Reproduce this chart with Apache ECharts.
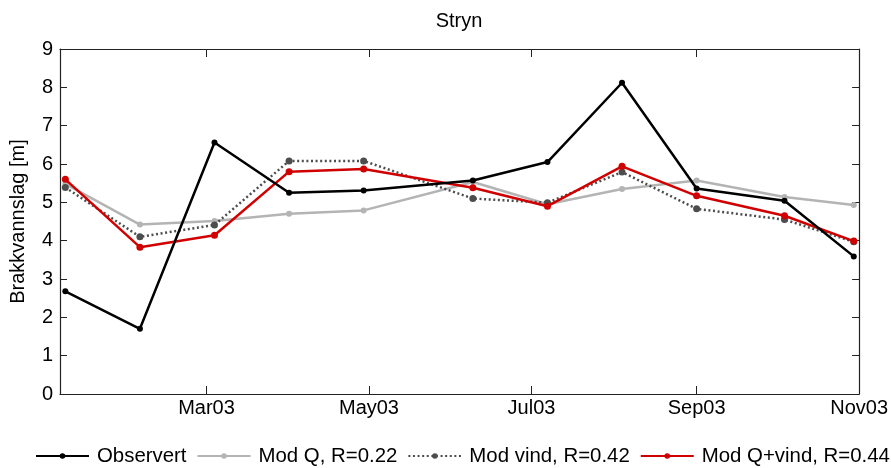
<!DOCTYPE html>
<html><head><meta charset="utf-8">
<script src="https://cdn.jsdelivr.net/npm/echarts@6/dist/echarts.min.js"></script>
<style>html,body{margin:0;padding:0;background:#fff}#c{width:891px;height:468px}</style>
</head><body><div id="c"></div>
<script>
const chartTitle = 'Stryn';
const yName = 'Brakkvannslag [m]';
const dates = ['2003-01-07','2003-02-04','2003-03-04','2003-04-01','2003-04-29','2003-06-09','2003-07-07','2003-08-04','2003-09-01','2003-10-04','2003-10-30'];
const observert = [2.68, 1.70, 6.56, 5.25, 5.31, 5.57, 6.05, 8.12, 5.36, 5.04, 3.59];
const modQ      = [5.48, 4.42, 4.51, 4.70, 4.79, 5.53, 4.95, 5.35, 5.57, 5.14, 4.93];
const modVind   = [5.39, 4.10, 4.41, 6.08, 6.08, 5.10, 4.99, 5.79, 4.83, 4.55, 3.97];
const modQVind  = [5.60, 3.83, 4.14, 5.80, 5.87, 5.38, 4.90, 5.94, 5.17, 4.65, 3.99];
const seriesNames = ['Observert', 'Mod Q, R=0.22', 'Mod vind, R=0.42', 'Mod Q+vind, R=0.44'];
const tickDates = ['2003-03-01','2003-05-01','2003-07-01','2003-09-01','2003-11-01'];
const tickLabels = ['Mar03','May03','Jul03','Sep03','Nov03'];
const xStart = '2003-01-05';
const xEnd = '2003-11-01';
const yMin = 0, yMax = 9, yStep = 1;

const ts = d => Date.parse(d + 'T00:00:00Z');
const tickTs = tickDates.map(ts);
const pair = arr => dates.map((d, i) => [ts(d), arr[i]]);
const FONT = 'Liberation Sans, Arial, Helvetica, sans-serif';
const AX = '#222';

const xCommon = {
  type: 'value', min: ts(xStart), max: ts(xEnd),
  splitLine: {show: false},
  axisLine: {show: true, onZero: false, lineStyle: {color: AX, width: 1.2}},
  axisTick: {show: true, inside: true, length: 8, customValues: tickTs, lineStyle: {color: AX, width: 1}},
};
const yCommon = {
  type: 'value', min: yMin, max: yMax, interval: yStep,
  splitLine: {show: false},
  axisLine: {show: true, onZero: false, lineStyle: {color: AX, width: 1.2}},
  axisTick: {show: true, inside: true, length: 7, lineStyle: {color: AX, width: 1}},
};

const styles = [
  {color: '#000000', width: 2.5, type: 'solid', size: 6, z: 5},
  {color: '#b4b4b4', width: 2.5, type: 'solid', size: 6, z: 2},
  {color: '#4d4d4d', width: 2.5, type: [2, 2.6], size: 7, z: 3},
  {color: '#d10000', width: 2.5, type: 'solid', size: 7, z: 4},
];
const values = [observert, modQ, modVind, modQVind];

const chart = echarts.init(document.getElementById('c'), null, {renderer: 'canvas'});
chart.setOption({
  animation: false,
  backgroundColor: '#fff',
  textStyle: {fontFamily: FONT},
  title: {text: chartTitle, left: 459, textAlign: 'center', top: 11, padding: 0,
    textStyle: {fontFamily: FONT, fontSize: 20, fontWeight: 'normal', color: '#000'}},
  grid: {left: 60, right: 30, top: 49, bottom: 74, containLabel: false},
  legend: {
    bottom: 2, left: 35, padding: 0, itemWidth: 53, itemHeight: 7, itemGap: 10,
    textStyle: {fontFamily: FONT, fontSize: 20.4, color: '#000', padding: [0, 0, 0, 3]},
    data: seriesNames,
  },
  xAxis: [
    Object.assign({}, xCommon, {position: 'bottom',
      axisLabel: {show: true, customValues: tickTs, margin: 4, color: '#000', fontSize: 20, fontFamily: FONT,
        showMinLabel: true, showMaxLabel: true, hideOverlap: false,
        formatter: v => { const i = tickTs.indexOf(v); return i >= 0 ? tickLabels[i] : ''; }}}),
    Object.assign({}, xCommon, {position: 'top', axisLabel: {show: false}}),
  ],
  yAxis: [
    Object.assign({}, yCommon, {position: 'left',
      name: yName, nameLocation: 'middle', nameGap: 32,
      nameTextStyle: {fontFamily: FONT, fontSize: 20, color: '#000'},
      axisLabel: {show: true, margin: 7, color: '#000', fontSize: 20, fontFamily: FONT}}),
    Object.assign({}, yCommon, {position: 'right', axisLabel: {show: false}}),
  ],
  series: seriesNames.map((n, k) => ({
    name: n, type: 'line', xAxisIndex: 0, yAxisIndex: 0,
    data: pair(values[k]), z: styles[k].z,
    symbol: 'circle', symbolSize: styles[k].size, showSymbol: true,
    lineStyle: {color: styles[k].color, width: styles[k].width, type: styles[k].type},
    itemStyle: {color: styles[k].color, borderWidth: 0},
    emphasis: {disabled: true},
  })),
});
</script></body></html>
